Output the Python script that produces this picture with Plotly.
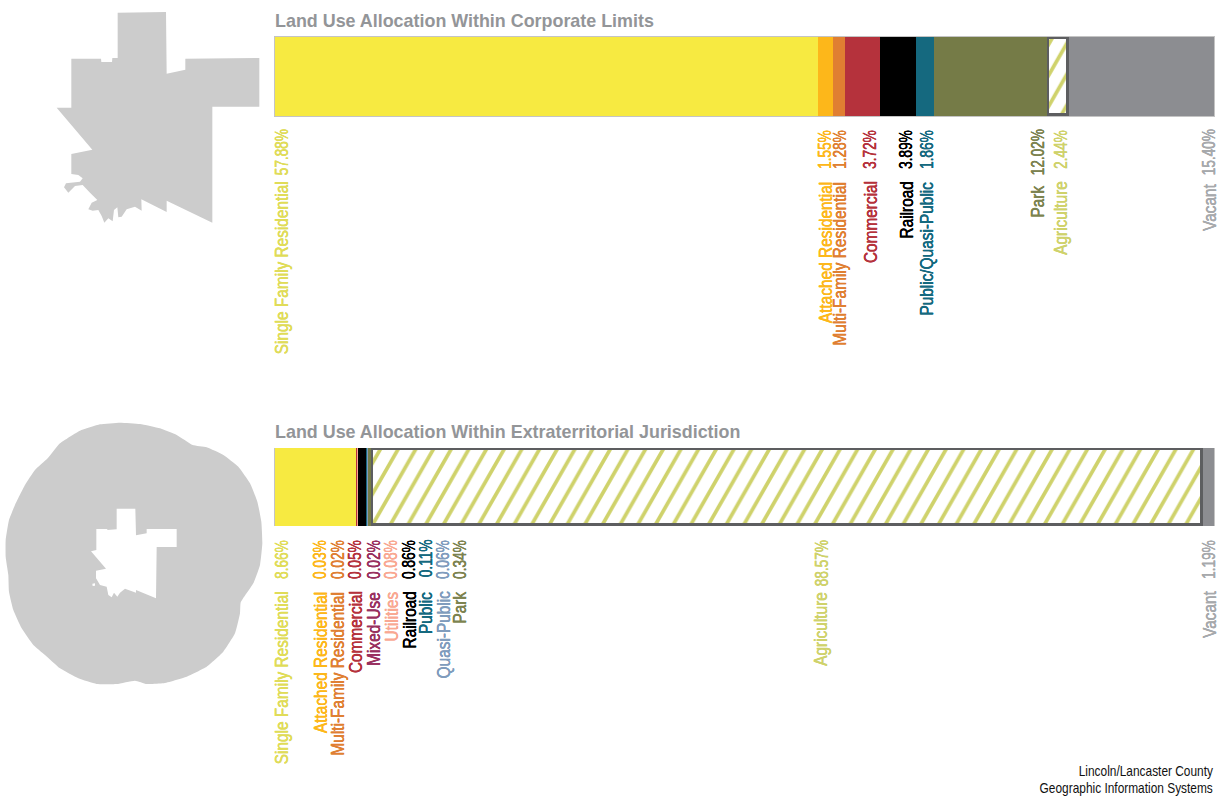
import plotly.graph_objects as go

W, H = 1225, 803

corp_categories = ["Single Family Residential", "Attached Residential", "Multi-Family Residential", "Commercial",
                   "Railroad", "Public/Quasi-Public", "Park", "Agriculture", "Vacant"]
corp_values = [57.88, 1.55, 1.28, 3.72, 3.89, 1.86, 12.02, 2.44, 15.40]
corp_labels = ["57.88%", "1.55%", "1.28%", "3.72%", "3.89%", "1.86%", "12.02%", "2.44%", "15.40%"]

etj_categories = ["Single Family Residential", "Attached Residential", "Multi-Family Residential", "Commercial",
                  "Mixed-Use", "Utilities", "Railroad", "Public", "Quasi-Public", "Park", "Agriculture", "Vacant"]
etj_values = [8.66, 0.03, 0.02, 0.05, 0.02, 0.08, 0.86, 0.11, 0.06, 0.34, 88.57, 1.19]
etj_labels = ["8.66%", "0.03%", "0.02%", "0.05%", "0.02%", "0.08%", "0.86%", "0.11%", "0.06%", "0.34%", "88.57%", "1.19%"]

bar_colors = {"Single Family Residential": "#f7ea41", "Attached Residential": "#fdb71a",
              "Multi-Family Residential": "#e07f32", "Commercial": "#b5323c", "Mixed-Use": "#99305f",
              "Utilities": "#f9a892", "Railroad": "#000000", "Public/Quasi-Public": "#15697f",
              "Public": "#15697f", "Quasi-Public": "#809cbd", "Park": "#757b47",
              "Agriculture": "#cfd26b", "Vacant": "#8c8d91"}
label_colors = dict(bar_colors, **{"Single Family Residential": "#e0dc58", "Vacant": "#a7a9ac", "Park": "#7d8350"})

# left edge of each rotated label column, in pixels
corp_label_x = [272, 815, 830, 860, 896, 917, 1028, 1051, 1199]
etj_label_x = [272, 310, 328, 345, 364, 381, 399, 416, 433, 450, 811, 1199]
corp_name_top = [182, 182, 182, 182, 182, 182, 186, 181, 185]

# Outlines, read in units of 1/3 pixel
city_x = [353, 498, 500, 556, 556, 778, 778, 637, 637, 500, 500, 424, 425, 405, 380, 365, 355, 352, 342, 338, 325, 313,
          305, 295, 278, 265, 275, 292, 270, 248, 225, 205, 192, 198, 240, 248, 235, 214, 214, 277, 170, 214, 214, 303,
          304, 336, 337, 353]
city_y = [38, 36, 221, 209, 176, 174, 320, 320, 668, 602, 636, 598, 632, 620, 628, 650, 652, 622, 630, 664, 655, 668,
          648, 630, 632, 628, 608, 600, 578, 555, 558, 578, 562, 550, 545, 535, 525, 522, 462, 449, 323, 323, 176, 176,
          186, 186, 174, 174]
etj_x = [143, 180, 240, 300, 360, 420, 480, 530, 578, 620, 670, 715, 750, 772, 784, 787, 780, 760, 722,
         720, 705, 670, 620, 560, 490, 440, 405, 350, 290, 235, 180, 135, 100, 65, 40, 27, 25,
         17, 17, 27, 45, 75, 105, 143]
etj_y = [145, 100, 62, 43, 38, 42, 55, 75, 105, 112, 135, 170, 220, 275, 335, 400, 465, 520, 578,
         610, 670, 725, 770, 800, 820, 822, 812, 822, 822, 805, 775, 735, 705, 655, 600, 545, 495,
         440, 390, 330, 285, 225, 180, 145]
hole_x = [350, 406, 408, 440, 440, 530, 530, 470, 468, 408, 408, 375, 360, 352, 342, 335, 325, 320, 300, 288, 288, 318,
          273, 289, 289, 322, 322, 350, None, 277, 285, 285, 278]
hole_y = [296, 296, 376, 370, 357, 357, 411, 411, 565, 540, 548, 536, 548, 560, 548, 562, 555, 530, 525, 505, 482, 476,
          424, 420, 357, 357, 360, 358, None, 521, 520, 527, 528]

FONT = "Liberation Sans"
fig = go.Figure()


def add_bars(cats, vals, xa, ya):
    bases = [sum(vals[:i]) for i in range(len(vals))]
    # The hatched bar goes first so that its neighbours cover the outer half of its frame
    order = sorted(range(len(cats)), key=lambda i: cats[i] != "Agriculture")
    for i in order:
        c, v = cats[i], vals[i]
        if c == "Agriculture":
            marker = dict(color="white", line=dict(width=5, color="#5d5e60"),
                          pattern=dict(shape="/", fgcolor=bar_colors[c], fgopacity=1, bgcolor="white", size=12.5,
                                       solidity=0.24))
        else:
            marker = dict(color=bar_colors[c], line=dict(width=0))
        fig.add_trace(go.Bar(x=[v], y=[0], base=[bases[i]], orientation="h", name=c, marker=marker, width=1,
                             xaxis=xa, yaxis=ya, showlegend=False, hovertemplate=c + ": %{x}%<extra></extra>"))


add_bars(corp_categories, corp_values, "x", "y")
add_bars(etj_categories, etj_values, "x2", "y2")

grey = "#cccccc"
fig.add_trace(go.Scatter(x=city_x, y=city_y, fill="toself", fillcolor=grey, mode="lines", line=dict(width=0),
                         xaxis="x3", yaxis="y3", showlegend=False, hoverinfo="skip"))
fig.add_trace(go.Scatter(x=etj_x, y=etj_y, fill="toself", fillcolor=grey, mode="lines",
                         line=dict(width=0, shape="spline", smoothing=0.4),
                         xaxis="x4", yaxis="y4", showlegend=False, hoverinfo="skip"))
fig.add_trace(go.Scatter(x=hole_x, y=hole_y, fill="toself", fillcolor="white", mode="lines", line=dict(width=0),
                         xaxis="x4", yaxis="y4", showlegend=False, hoverinfo="skip"))


def px(x):
    return x / W


def py(y):
    return 1 - y / H


def hidden(**kw):
    return dict(visible=False, fixedrange=True, **kw)


border = dict(visible=True, showline=True, mirror=True, linecolor="#c4c4c4", linewidth=1, showgrid=False,
              zeroline=False, showticklabels=False, ticks="", fixedrange=True)
bar_y = dict(border, range=[-0.5, 0.5])

annotations = []


def text(x, y, s, color, size=17.5, angle=-90, bold=False, xanchor="left", yanchor="top", thick=True):
    f = dict(family=FONT, size=size, color=color, weight=700 if bold else 400)
    if thick:
        f["shadow"] = "0.5px 0 0 " + color + ", 0 0.25px 0 " + color
    annotations.append(dict(xref="paper", yref="paper", x=px(x), y=py(y), text=s, showarrow=False, textangle=angle,
                            xanchor=xanchor, yanchor=yanchor, font=f, borderpad=0, borderwidth=0))


for x, c, p, t in zip(corp_label_x, corp_categories, corp_labels, corp_name_top):
    text(x, 130, p, label_colors[c])
    text(x, t, c, label_colors[c])
for x, c, p in zip(etj_label_x, etj_categories, etj_labels):
    text(x, 540, p, label_colors[c])
    text(x, 592, c, label_colors[c])

text(275, 21, "Land Use Allocation Within Corporate Limits", "#939598", size=17.9, angle=0, bold=True,
     yanchor="middle", thick=False)
text(275, 432, "Land Use Allocation Within Extraterritorial Jurisdiction", "#939598", size=17.9, angle=0, bold=True,
     yanchor="middle", thick=False)
text(1213, 771, "Lincoln/Lancaster County", "#111111", size=14, angle=0, xanchor="right", yanchor="middle",
     thick=False)
text(1213, 788, "Geographic Information Systems", "#111111", size=14, angle=0, xanchor="right", yanchor="middle",
     thick=False)

fig.update_layout(
    width=W, height=H, margin=dict(l=0, r=0, t=0, b=0), paper_bgcolor="white", plot_bgcolor="white",
    barmode="overlay", bargap=0, hovermode="closest", annotations=annotations,
    xaxis=dict(border, domain=[px(275), px(1214)], range=[0, sum(corp_values)]),
    yaxis=dict(bar_y, domain=[py(116), py(37)]),
    xaxis2=dict(border, domain=[px(275), px(1214)], range=[0, sum(etj_values)]),
    yaxis2=dict(bar_y, domain=[py(526), py(448)]),
    xaxis3=hidden(domain=[0, px(270)], range=[0, 810]),
    yaxis3=hidden(domain=[py(240), 1], range=[720, 0]),
    xaxis4=hidden(domain=[0, px(270)], range=[0, 810]),
    yaxis4=hidden(domain=[py(700), py(410)], range=[870, 0]),
)

post = """document.body.style.margin='0';
document.querySelectorAll('pattern').forEach(function(p){p.setAttribute('patternTransform','scale(1,1.75)');});
document.querySelectorAll('.annotation-text').forEach(function(t){
  var s=t.textContent; if(s.indexOf('Land Use')===0) return;
  var L=t.getComputedTextLength(), x=parseFloat(t.getAttribute('x')||0);
  if(s.indexOf('Lincoln')===0||s.indexOf('Geographic')===0){
    var X=x+L/2, k=0.85;
    t.setAttribute('transform',(t.getAttribute('transform')||'')+' translate('+X+',0) scale('+k+',1) translate('+(-X)+',0)');
    return;
  }
  var k2=/%$/.test(s)?0.78:0.88;
  t.setAttribute('lengthAdjust','spacingAndGlyphs');
  t.setAttribute('textLength',L*k2);
  t.style.textAnchor='end';
  t.setAttribute('text-anchor','end');
  t.setAttribute('x',x+L/2);
});"""
fig.write_html("out.html", post_script=post, config={"displayModeBar": False})
